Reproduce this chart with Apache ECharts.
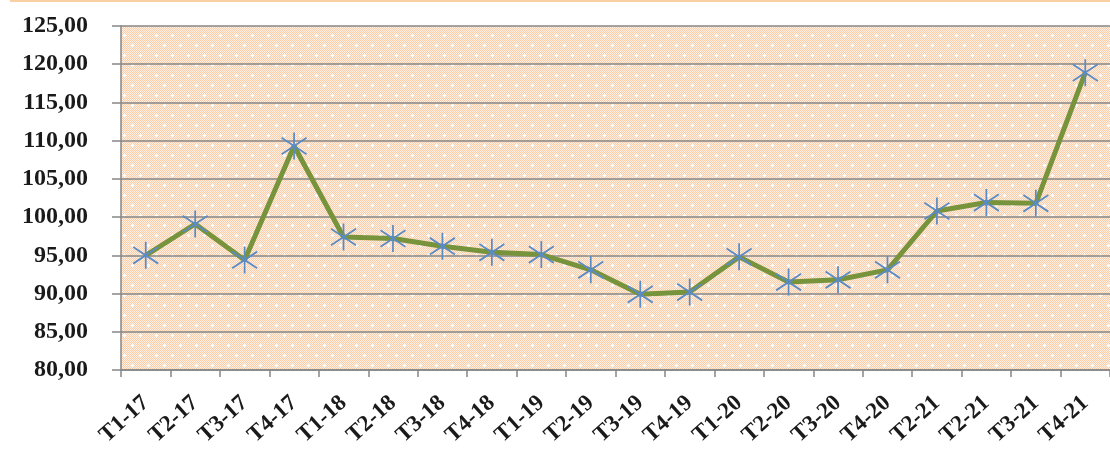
<!DOCTYPE html>
<html>
<head>
<meta charset="utf-8">
<script src="https://cdn.jsdelivr.net/npm/echarts@6/dist/echarts.min.js"></script>
<style>
html,body{margin:0;padding:0;background:#fff;}
#chart{width:1110px;height:450px;}
</style>
</head>
<body>
<div id="chart"></div>
<script>
// Data
var categories = ['T1-17','T2-17','T3-17','T4-17','T1-18','T2-18','T3-18','T4-18','T1-19','T2-19','T3-19','T4-19','T1-20','T2-20','T3-20','T4-20','T2-21','T2-21','T3-21','T4-21'];
var values = [95.0, 99.1, 94.4, 109.3, 97.4, 97.2, 96.2, 95.4, 95.1, 93.1, 89.9, 90.2, 94.8, 91.5, 91.8, 93.1, 100.8, 101.9, 101.8, 118.9];
var yTicks = {min: 80, max: 125, step: 5};

// background pattern tile
function makeTile() {
  var c = document.createElement('canvas');
  c.width = 16; c.height = 20;
  var g = c.getContext('2d');
  for (var y = 0; y < 20; y++) {
    for (var x = 0; x < 16; x++) {
      g.fillStyle = ((x + y) % 2 === 0) ? '#FBCDAB' : '#FFF0E4';
      g.fillRect(x, y, 1, 1);
    }
  }
  g.fillStyle = '#ffffff';
  [[4,5],[12,15]].forEach(function(p){
    g.fillRect(p[0]-1, p[1], 3, 1);
    g.fillRect(p[0], p[1]-1, 1, 3);
  });
  return c;
}

var chart = echarts.init(document.getElementById('chart'), null, {renderer: 'canvas'});
var serif = '"Liberation Serif", "Times New Roman", serif';
chart.setOption({
  animation: false,
  backgroundColor: '#ffffff',
  graphic: [{
    type: 'rect', left: 10, top: 0,
    shape: {width: 1100, height: 2},
    style: {fill: '#F9CFA4'}
  }],
  grid: {
    left: 121, top: 26, width: 995, bottom: 80,
    show: true,
    backgroundColor: {image: makeTile(), repeat: 'repeat'},
    borderWidth: 0
  },
  xAxis: {
    type: 'category',
    data: categories,
    boundaryGap: true,
    axisLine: {show: true, lineStyle: {color: '#868686', width: 1.5}},
    axisTick: {show: true, interval: 0, length: 7, lineStyle: {color: '#868686', width: 1.5}},
    axisLabel: {
      interval: 0, rotate: 42, margin: 30,
      fontFamily: serif, fontWeight: 'bold', fontSize: 23, color: '#1a1a1a'
    },
    splitLine: {show: false}
  },
  yAxis: {
    type: 'value',
    min: yTicks.min, max: yTicks.max, interval: yTicks.step,
    axisLine: {show: true, lineStyle: {color: '#868686', width: 1.5}},
    axisTick: {show: true, length: 9, lineStyle: {color: '#868686', width: 1.5}},
    axisLabel: {
      margin: 33,
      fontFamily: serif, fontWeight: 'bold', fontSize: 24, color: '#1a1a1a',
      formatter: function (v) { return v.toFixed(2).replace('.', ','); }
    },
    splitLine: {show: true, lineStyle: {color: '#868686', width: 1.5}}
  },
  series: [{
    type: 'line',
    data: values,
    lineStyle: {color: '#77933C', width: 5},
    symbol: 'path://M11,0 L11,26 M0,5 L22,21 M22,5 L0,21',
    symbolSize: [25, 27],
    showAllSymbol: true,
    itemStyle: {color: 'rgba(0,0,0,0)', borderColor: '#5B8BC4', borderWidth: 1.8},
    emphasis: {disabled: true}
  }]
});
</script>
</body>
</html>
